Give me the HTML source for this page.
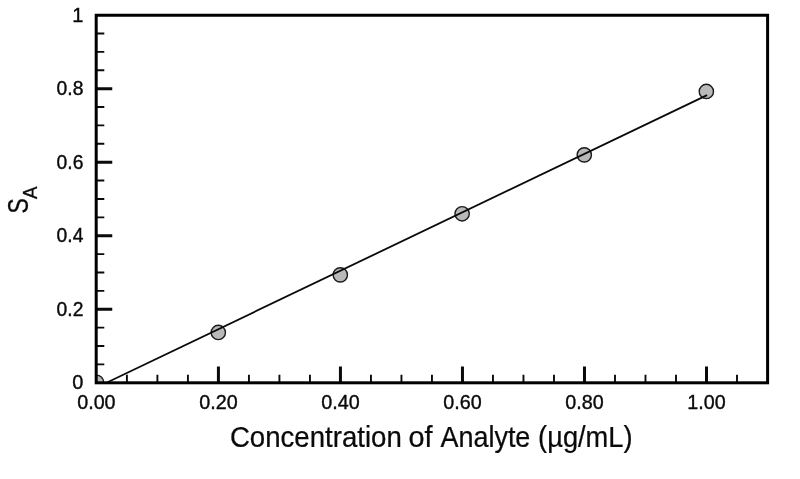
<!DOCTYPE html>
<html lang="en">
<head>
<meta charset="utf-8">
<title>Calibration curve</title>
<style>
  html, body { margin: 0; padding: 0; background: #ffffff; }
  body { width: 800px; height: 479px; overflow: hidden; }
  svg { display: block; }
  text { font-family: "Liberation Sans", sans-serif; fill: #0a0a0a; }
</style>
</head>
<body>
<svg width="800" height="479" viewBox="0 0 800 479">
  <defs>
    <clipPath id="plotclip"><rect x="96.2" y="15.25" width="671.40" height="367.55"/></clipPath>
  </defs>
  <rect x="0" y="0" width="800" height="479" fill="#ffffff"/>

  <!-- data point at origin (clipped by axes) -->
  <circle cx="96.3" cy="382.6" r="7.45" fill="#b9b9b9" stroke="#1a1a1a" stroke-width="1.4" clip-path="url(#plotclip)"/>

  <!-- data points -->
  <g fill="#b9b9b9" stroke="#1a1a1a" stroke-width="1.4">
    <circle cx="218.30" cy="332.45" r="7.15"/>
    <circle cx="340.30" cy="274.90" r="7.15"/>
    <circle cx="462.12" cy="213.80" r="7.15"/>
    <circle cx="584.30" cy="154.90" r="7.15"/>
    <circle cx="706.35" cy="91.45" r="7.15"/>
  </g>

  <!-- regression line -->
  <line x1="107" y1="382.5" x2="707.1" y2="95.15" stroke="#0a0a0a" stroke-width="1.8"/>

  <!-- y axis ticks -->
  <path d="M96.20 364.42H104.3 M96.20 346.03H104.3 M96.20 327.64H104.3 M96.20 290.88H104.3 M96.20 272.49H104.3 M96.20 254.10H104.3 M96.20 217.34H104.3 M96.20 198.95H104.3 M96.20 180.56H104.3 M96.20 143.80H104.3 M96.20 125.41H104.3 M96.20 107.03H104.3 M96.20 70.25H104.3 M96.20 51.87H104.3 M96.20 33.49H104.3" stroke="#0a0a0a" stroke-width="1.9" fill="none"/>
  <path d="M96.20 309.26H112.25 M96.20 235.72H112.25 M96.20 162.18H112.25 M96.20 88.64H112.25" stroke="#0a0a0a" stroke-width="3" fill="none"/>
  <!-- x axis ticks -->
  <path d="M126.91 382.80V374.75 M157.41 382.80V374.75 M187.92 382.80V374.75 M248.93 382.80V374.75 M279.43 382.80V374.75 M309.94 382.80V374.75 M370.95 382.80V374.75 M401.45 382.80V374.75 M431.96 382.80V374.75 M492.97 382.80V374.75 M523.47 382.80V374.75 M553.98 382.80V374.75 M614.99 382.80V374.75 M645.49 382.80V374.75 M676.00 382.80V374.75 M737.00 382.80V374.75" stroke="#0a0a0a" stroke-width="1.9" fill="none"/>
  <path d="M218.42 382.80V366.6 M340.44 382.80V366.6 M462.46 382.80V366.6 M584.48 382.80V366.6 M706.50 382.80V366.6" stroke="#0a0a0a" stroke-width="3" fill="none"/>

  <!-- frame -->
  <rect x="96.2" y="15.25" width="671.40" height="367.55" fill="none" stroke="#000000" stroke-width="3"/>

  <!-- y tick labels -->
  <g font-size="21" text-anchor="end" stroke="#0a0a0a" stroke-width="0.4">
    <text transform="translate(83.4 21.60) scale(0.95 1)">1</text>
    <text transform="translate(83.4 95.14) scale(0.92 1)">0.8</text>
    <text transform="translate(83.4 168.68) scale(0.92 1)">0.6</text>
    <text transform="translate(83.4 242.22) scale(0.92 1)">0.4</text>
    <text transform="translate(83.4 315.76) scale(0.92 1)">0.2</text>
    <text transform="translate(83.4 388.70) scale(0.95 1)">0</text>
  </g>

  <!-- x tick labels -->
  <g font-size="21" text-anchor="middle" stroke="#0a0a0a" stroke-width="0.4">
    <text transform="translate(96.40 409.4) scale(0.94 1)">0.00</text>
    <text transform="translate(218.42 409.4) scale(0.94 1)">0.20</text>
    <text transform="translate(340.44 409.4) scale(0.94 1)">0.40</text>
    <text transform="translate(462.46 409.4) scale(0.94 1)">0.60</text>
    <text transform="translate(584.48 409.4) scale(0.94 1)">0.80</text>
    <text transform="translate(706.50 409.4) scale(0.94 1)">1.00</text>
  </g>

  <!-- x axis title -->
  <g font-size="28.8" stroke="#0a0a0a" stroke-width="0.25">
    <text transform="translate(229.9 447) scale(0.959 1)">Concentration</text>
    <text transform="translate(408.6 447) scale(1.001 1)">of</text>
    <text transform="translate(440.5 447) scale(0.936 1)">Analyte</text>
    <text transform="translate(538.1 447) scale(0.947 1)">(µg/mL)</text>
  </g>

  <!-- y axis title -->
  <text font-size="28.6" stroke="#0a0a0a" stroke-width="0.3" transform="translate(27.7 213.4) rotate(-90) scale(0.8 1)">S</text>
  <text font-size="20.4" stroke="#0a0a0a" stroke-width="0.25" transform="translate(37.1 199) rotate(-90) scale(0.93 1)">A</text>
</svg>
</body>
</html>
